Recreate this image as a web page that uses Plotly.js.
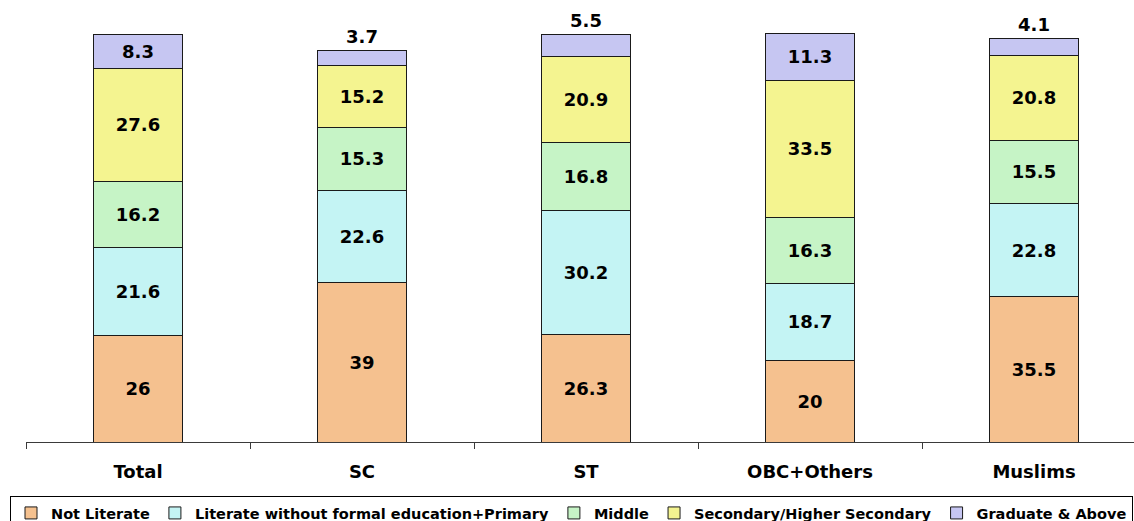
<!DOCTYPE html>
<html>
<head>
<meta charset="utf-8">
<script src="https://cdn.plot.ly/plotly-3.0.1.min.js"></script>
<style>
  html, body { margin: 0; padding: 0; overflow: hidden; background: #fff; }
  #chart { width: 1200px; height: 521px; }
</style>
</head>
<body>
<div id="chart"></div>
<script>
// Data
const categories = ["Total", "SC", "ST", "OBC+Others", "Muslims"];
const seriesNames = [
  "Not Literate",
  "Literate without formal education+Primary",
  "Middle",
  "Secondary/Higher Secondary",
  "Graduate & Above"
];
const notLiterate   = [26, 39, 26.3, 20, 35.5];
const literatePrim  = [21.6, 22.6, 30.2, 18.7, 22.8];
const middle        = [16.2, 15.3, 16.8, 16.3, 15.5];
const secondary     = [27.6, 15.2, 20.9, 33.5, 20.8];
const graduate      = [8.3, 3.7, 5.5, 11.3, 4.1];

const seriesValues = [notLiterate, literatePrim, middle, secondary, graduate];
const colors = ["#F5C18F", "#C4F4F4", "#C6F4C6", "#F4F490", "#C6C6F2"];

const labelFont = { family: "DejaVu Sans", size: 18, color: "#000", weight: "bold" };

const traces = seriesValues.map((vals, i) => {
  const isTop = i === seriesValues.length - 1;
  return {
    type: "bar",
    name: seriesNames[i],
    x: categories,
    y: vals,
    text: vals.map(v => String(v)),
    textposition: isTop ? vals.map(v => (v < 6 ? "outside" : "inside")) : "inside",
    insidetextanchor: "middle",
    constraintext: "none",
    cliponaxis: false,
    textfont: labelFont,
    insidetextfont: labelFont,
    outsidetextfont: labelFont,
    marker: { color: colors[i], line: { color: "#1a1a1a", width: 1 } },
    width: 0.4,
    hoverinfo: "skip"
  };
});

const plotW = 1200 - 26;
const layout = {
  width: 1200,
  height: 521,
  barmode: "stack",
  paper_bgcolor: "#fff",
  plot_bgcolor: "#fff",
  margin: { l: 26, r: 0, t: 33, b: 79, autoexpand: false },
  showlegend: true,
  xaxis: {
    type: "category",
    range: [-0.5, -0.5 + plotW / 224],
    showline: true,
    linecolor: "#3a3a3a",
    linewidth: 1,
    ticks: "outside",
    tickson: "boundaries",
    ticklen: 6,
    tickcolor: "#3a3a3a",
    tickwidth: 1,
    ticklabelstandoff: 13,
    showgrid: false,
    zeroline: false,
    tickfont: { family: "DejaVu Sans", size: 18, color: "#000", weight: "bold" },
    fixedrange: true
  },
  yaxis: {
    range: [0, 100],
    visible: false,
    showgrid: false,
    zeroline: false,
    fixedrange: true
  },
  legend: {
    orientation: "h",
    traceorder: "normal",
    x: (10 - 26) / plotW,
    xanchor: "left",
    y: (442 - 496) / 409,
    yanchor: "top",
    bordercolor: "#000",
    borderwidth: 1,
    bgcolor: "#fff",
    font: { family: "DejaVu Sans", size: 14.5, color: "#000", weight: "bold" }
  }
};

Plotly.newPlot("chart", traces, layout, { displayModeBar: false, staticPlot: true });
</script>
</body>
</html>
